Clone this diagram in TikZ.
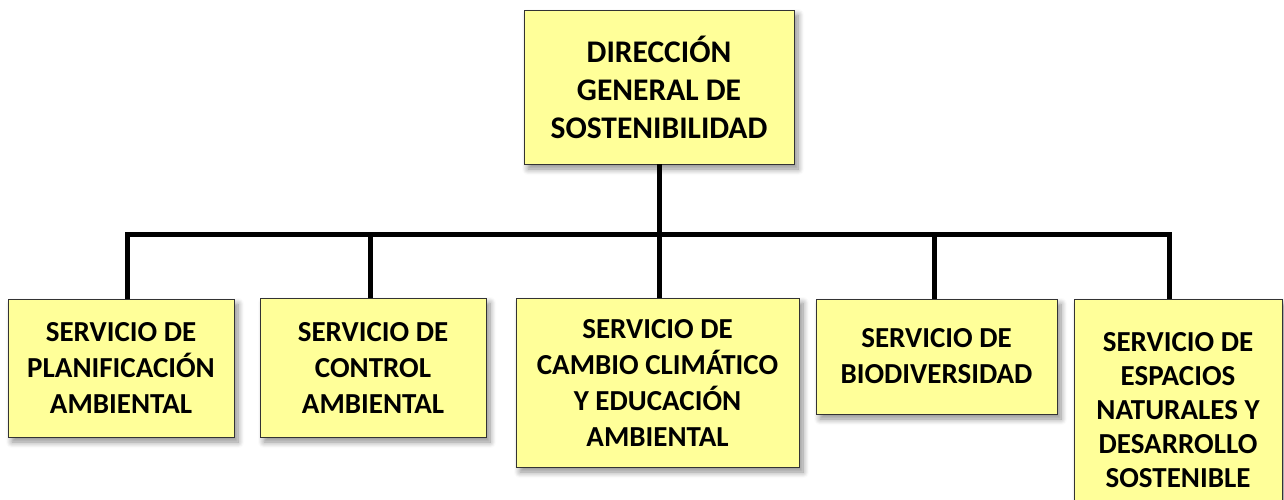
\documentclass[tikz,border=0pt]{standalone}
\usepackage{fontspec}
\setmainfont{Carlito}
\usetikzlibrary{shadows.blur}
\definecolor{caja}{HTML}{FFFF99}
\begin{document}
\begin{tikzpicture}[x=1pt, y=-1pt, line join=miter,
		box/.style={draw=black!80, line width=0.8pt, fill=caja, align=center, inner sep=0pt,
			font=\bfseries\fontsize{29}{36}\selectfont,
			blur shadow={shadow xshift=4pt, shadow yshift=-5pt, shadow blur steps=8, shadow blur radius=6pt, shadow opacity=45}},
		conn/.style={line width=5pt, black}]
				\useasboundingbox (0,0) rectangle (1284,499);
				\node[box, minimum width=270, minimum height=154, font=\bfseries\fontsize{31.5}{38}\selectfont] (dir) at (659,87) {DIRECCIÓN\\GENERAL DE\\SOSTENIBILIDAD};
				\node[box, minimum width=226, minimum height=138] (plan) at (121,368) {SERVICIO DE\\PLANIFICACIÓN\\AMBIENTAL};
				\node[box, minimum width=226, minimum height=139] (ctrl) at (373,367.5) {SERVICIO DE\\CONTROL\\AMBIENTAL};
				\node[box, minimum width=283, minimum height=169] (cambio) at (657.5,382.5) {SERVICIO DE\\CAMBIO CLIMÁTICO\\Y EDUCACIÓN\\AMBIENTAL};
				\node[box, minimum width=241, minimum height=115] (bio) at (936.5,356.5) {SERVICIO DE\\BIODIVERSIDAD};
				\node[box, minimum width=208, minimum height=222, font=\bfseries\fontsize{29}{34}\selectfont] (esp) at (1178,410) {SERVICIO DE\\ESPACIOS\\NATURALES Y\\DESARROLLO\\SOSTENIBLE};
				% bus
				\coordinate (t1) at (127,234);
				\coordinate (t2) at (370,234);
				\coordinate (t4) at (934,234);
				\coordinate (t5) at (1169,234);
				\draw[conn] (t1 |- plan.north) -- (t1) -- (t5) -- (t5 |- esp.north);
				\draw[conn] (t2) -- (t2 |- ctrl.north);
				\draw[conn] (t4) -- (t4 |- bio.north);
				\draw[conn] (dir.south) -- (dir.south |- cambio.north);
			\end{tikzpicture}
\end{document}
